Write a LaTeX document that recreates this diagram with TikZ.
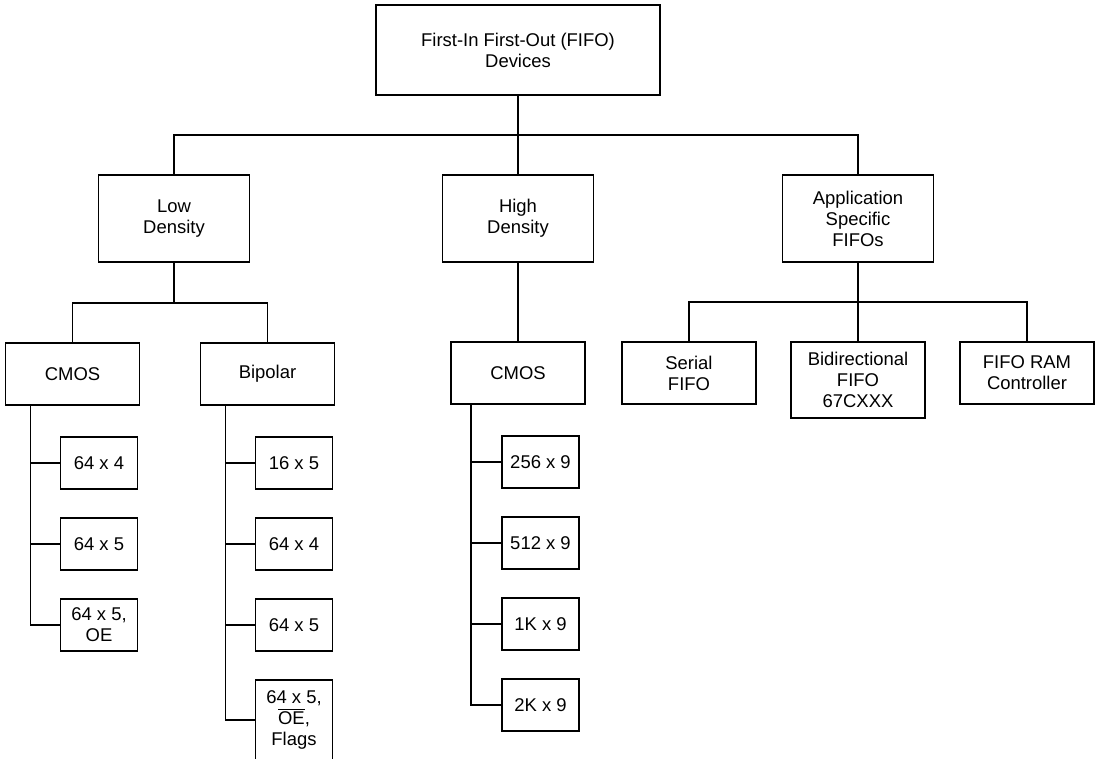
\documentclass[tikz,border=0pt]{standalone}
\usepackage{fontspec}
\setmainfont{Liberation Sans}
\usetikzlibrary{positioning}

\begin{document}
\begin{tikzpicture}[
  node distance=6mm and 10mm,
  box/.style={draw, line width=1pt, align=center, inner sep=1pt, outer sep=0pt, font=\fontsize{10.5}{12}\selectfont},
  rootbox/.style={box, minimum width=56.8mm, minimum height=18mm},
  cat/.style={box, minimum width=30.2mm, minimum height=17.4mm},
  sub/.style={box, minimum width=26.8mm, minimum height=12.4mm},
  leaf/.style={box, minimum width=15.4mm, minimum height=10.4mm},
  link/.style={line width=1pt}]

  \useasboundingbox (0,0) rectangle (219mm,-151.8mm);

  \node[rootbox] (root) at (103.6mm,-10mm) {First-In First-Out (FIFO)\\Devices};
  \node[cat, below=16mm of root] (high) {High\\Density};
  \node[cat, left=38.6mm of high] (low) {Low\\Density};
  \node[cat, right=37.8mm of high] (app) {Application\\Specific\\FIFOs};

  % low density
  \node[sub, below=16.2mm of low, xshift=-20.3mm] (lcmos) {CMOS};
  \node[sub, right=12.2mm of lcmos] (bip) {Bipolar};
  \node[leaf, below=6.4mm of lcmos, xshift=5.3mm] (lc1) {64 x 4};
  \node[leaf, below=5.8mm of lc1] (lc2) {64 x 5};
  \node[leaf, below=5.8mm of lc2] (lc3) {64 x 5,\\OE};
  \node[leaf, below=6.4mm of bip, xshift=5.3mm] (bp1) {16 x 5};
  \node[leaf, below=5.8mm of bp1] (bp2) {64 x 4};
  \node[leaf, below=5.8mm of bp2] (bp3) {64 x 5};
  \node[leaf, below=5.8mm of bp3, minimum height=16mm] (bp4) {64 x 5,\\$\overline{\mbox{OE}}$,\\Flags};

  % high density
  \node[sub, below=16mm of high] (hcmos) {CMOS};
  \node[leaf, below=6.4mm of hcmos, xshift=4.5mm] (hc1) {256 x 9};
  \node[leaf, below=5.8mm of hc1] (hc2) {512 x 9};
  \node[leaf, below=5.8mm of hc2] (hc3) {1K x 9};
  \node[leaf, below=5.8mm of hc3] (hc4) {2K x 9};

  % application specific
  \node[sub, below=16mm of app, minimum height=15.2mm] (bidir) {Bidirectional\\FIFO\\67CXXX};
  \node[sub, left=7mm of bidir.north west, anchor=north east] (serial) {Serial\\FIFO};
  \node[sub, right=7mm of bidir.north east, anchor=north west] (ram) {FIFO RAM\\Controller};

  % buses
  \coordinate (bus) at ([yshift=-8mm]root.south);
  \draw[link] (low.north) |- (bus) -| (app.north);
  \draw[link] (root) -- (high);

  \coordinate (lbus) at ([yshift=-8.2mm]low.south);
  \draw[link] (lcmos.north) |- (lbus) -| (bip.north);
  \draw[link] (low) -- (lbus);

  \draw[link] (high) -- (hcmos);

  \coordinate (abus) at ([yshift=-8mm]app.south);
  \draw[link] (serial.north) |- (abus) -| (ram.north);
  \draw[link] (app) -- (bidir);

  % spines
  \coordinate (lspine) at ([xshift=5mm]lcmos.south west);
  \draw[link] (lspine) |- (lc3.west);
  \foreach \n in {lc1,lc2} \draw[link] (\n.west) -- (\n.west -| lspine);

  \coordinate (bspine) at ([xshift=5mm]bip.south west);
  \draw[link] (bspine) |- (bp4.west);
  \foreach \n in {bp1,bp2,bp3} \draw[link] (\n.west) -- (\n.west -| bspine);

  \coordinate (hspine) at ([xshift=4mm]hcmos.south west);
  \draw[link] (hspine) |- (hc4.west);
  \foreach \n in {hc1,hc2,hc3} \draw[link] (\n.west) -- (\n.west -| hspine);
\end{tikzpicture}
\end{document}
